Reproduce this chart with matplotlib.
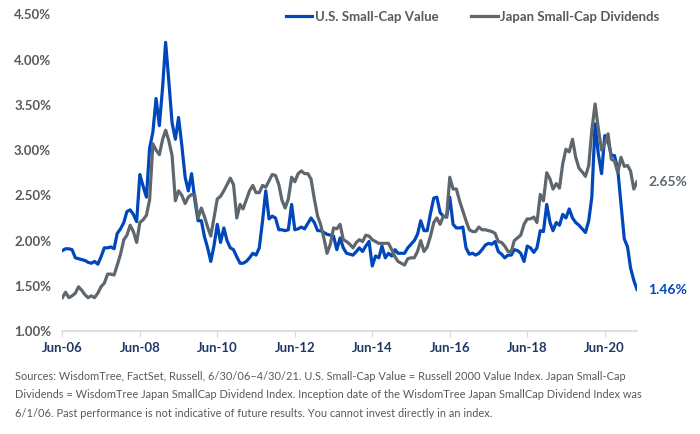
import numpy as np
import pandas as pd
import matplotlib
matplotlib.use("Agg")
import matplotlib.pyplot as plt
import matplotlib.ticker as mticker
import matplotlib.dates as mdates

# monthly dividend yields (%), 6/30/06 - 4/30/21
us_small_cap_value = [
    1.89, 1.91, 1.91, 1.90, 1.81, 1.80, 1.79, 1.78, 1.76, 1.75, 1.77, 1.74,
    1.82, 1.92, 1.92, 1.93, 1.91, 2.08, 2.13, 2.20, 2.32, 2.34, 2.29, 2.21,
    2.73, 2.60, 2.48, 3.02, 3.20, 3.57, 3.27, 3.70, 4.19, 3.75, 3.30, 3.12,
    3.36, 3.05, 2.70, 2.55, 2.74, 2.45, 2.22, 2.22, 2.05, 1.92, 1.77, 1.95,
    2.18, 1.98, 2.14, 2.00, 1.92, 1.90, 1.82, 1.75, 1.75, 1.77, 1.81, 1.86,
    1.84, 1.92, 2.22, 2.55, 2.24, 2.27, 2.25, 2.12, 2.12, 2.11, 2.12, 2.40,
    2.12, 2.13, 2.15, 2.13, 2.19, 2.25, 2.20, 2.11, 2.11, 2.09, 2.07, 2.06,
    2.05, 1.90, 2.03, 1.92, 1.86, 1.85, 1.84, 1.88, 1.92, 1.88, 1.94, 1.99,
    1.72, 1.83, 1.81, 1.94, 1.81, 1.86, 1.83, 1.90, 1.86, 1.86, 1.86, 1.92,
    1.96, 2.00, 2.07, 2.22, 2.11, 2.11, 2.30, 2.47, 2.48, 2.31, 2.27, 2.26,
    2.48, 2.18, 2.14, 2.14, 2.15, 1.92, 1.85, 1.86, 1.84, 1.86, 1.90, 1.95,
    1.97, 1.96, 1.99, 1.88, 1.85, 1.81, 1.84, 1.84, 1.90, 1.89, 1.86, 1.77,
    1.94, 1.92, 1.87, 1.92, 2.11, 2.10, 2.40, 2.20, 2.11, 2.20, 2.17, 2.29,
    2.25, 2.35, 2.25, 2.20, 2.17, 2.13, 2.09, 2.22, 2.48, 3.29, 2.96, 2.74,
    3.16, 3.10, 2.94, 2.94, 2.78, 2.40, 2.02, 1.93, 1.70, 1.56, 1.46,
]

japan_small_cap_div = [
    1.37, 1.43, 1.37, 1.39, 1.42, 1.49, 1.45, 1.40, 1.37, 1.39, 1.37, 1.42,
    1.49, 1.53, 1.63, 1.63, 1.62, 1.73, 1.85, 2.01, 2.06, 2.17, 2.10, 1.98,
    2.20, 2.23, 2.28, 2.45, 3.07, 3.00, 2.95, 3.12, 3.22, 3.10, 2.94, 2.44,
    2.55, 2.50, 2.41, 2.48, 2.51, 2.50, 2.25, 2.36, 2.27, 2.15, 2.05, 2.26,
    2.46, 2.49, 2.55, 2.62, 2.69, 2.62, 2.25, 2.40, 2.35, 2.45, 2.55, 2.61,
    2.53, 2.53, 2.61, 2.59, 2.66, 2.73, 2.72, 2.62, 2.45, 2.36, 2.46, 2.70,
    2.65, 2.74, 2.77, 2.74, 2.74, 2.68, 2.46, 2.27, 2.18, 2.03, 1.86, 1.96,
    2.14, 2.13, 2.18, 2.01, 1.99, 1.96, 1.92, 1.98, 2.01, 1.99, 2.06, 2.05,
    2.01, 1.99, 1.97, 1.97, 1.97, 1.97, 1.90, 1.82, 1.77, 1.75, 1.73, 1.80,
    1.81, 1.81, 1.88, 2.00, 1.88, 1.93, 2.05, 2.20, 2.25, 2.18, 2.27, 2.26,
    2.70, 2.57, 2.57, 2.44, 2.33, 2.22, 2.12, 2.10, 2.10, 2.15, 2.12, 2.12,
    2.11, 2.10, 2.08, 1.99, 1.98, 1.94, 1.88, 1.88, 2.00, 2.03, 2.06, 2.18,
    2.24, 2.24, 2.26, 2.20, 2.51, 2.44, 2.75, 2.68, 2.57, 2.63, 2.58, 2.85,
    3.01, 2.98, 3.12, 2.92, 2.80, 2.76, 2.71, 2.83, 3.22, 3.51, 3.24, 3.00,
    3.07, 3.18, 2.90, 2.88, 2.75, 2.92, 2.82, 2.83, 2.77, 2.57, 2.65,
]

dates = pd.date_range("2006-06-30", "2021-04-30", freq="ME")
assert len(dates) == len(us_small_cap_value) == len(japan_small_cap_div)

blue = "#0047BB"
grey = "#5E676E"
text_col = "#595959"

plt.rcParams["font.family"] = ["Lato", "DejaVu Sans"]

fig = plt.figure(figsize=(7, 4.34), dpi=100)
ax = fig.add_axes([0.089, 0.237, 0.821, 0.730])

ax.plot(dates, us_small_cap_value, color=blue, lw=2.3, label="U.S. Small-Cap Value",
        solid_joinstyle="round")
ax.plot(dates, japan_small_cap_div, color=grey, lw=2.3, label="Japan Small-Cap Dividends",
        solid_joinstyle="round")

ax.set_ylim(1.0, 4.5)
ax.set_xlim(dates[0], dates[-1])
ax.yaxis.set_major_locator(mticker.MultipleLocator(0.5))
ax.yaxis.set_major_formatter(mticker.FuncFormatter(lambda v, p: f"{v:.2f}%"))

ticks = [d for d in dates if d.month == 6 and d.year % 2 == 0]
ax.set_xticks(ticks)
ax.xaxis.set_major_formatter(mdates.DateFormatter("%b-%y"))

for s in ["top", "right", "left"]:
    ax.spines[s].set_visible(False)
ax.spines["bottom"].set_color("#d9d9d9")
ax.spines["bottom"].set_linewidth(1.2)
ax.tick_params(axis="y", length=0, pad=8, labelsize=9.5, labelcolor=text_col)
ax.tick_params(axis="x", length=4, color="#d9d9d9", pad=4, labelsize=9.5,
               labelcolor="#1F3864")
for lbl in ax.get_yticklabels() + ax.get_xticklabels():
    lbl.set_fontweight("bold")

# end-of-series labels
ax.annotate(f"{japan_small_cap_div[-1]:.2f}%", xy=(dates[-1], japan_small_cap_div[-1]),
            xytext=(8, 0), textcoords="offset points", va="center", ha="left",
            color=grey, fontsize=10, fontweight="bold", annotation_clip=False)
ax.annotate(f"{us_small_cap_value[-1]:.2f}%", xy=(dates[-1], us_small_cap_value[-1]),
            xytext=(8, 0), textcoords="offset points", va="center", ha="left",
            color=blue, fontsize=10, fontweight="bold", annotation_clip=False)

leg = fig.legend(loc="center", bbox_to_anchor=(0.675, 0.961), ncol=2, frameon=False,
                 handlelength=2.0, handletextpad=0.2, columnspacing=2.5,
                 prop={"size": 9.5, "weight": "bold"})
for t in leg.get_texts():
    t.set_color(text_col)

note = ("Sources: WisdomTree, FactSet, Russell, 6/30/06\u20134/30/21. U.S. Small-Cap Value = Russell 2000 Value Index. Japan Small-Cap\n"
        "Dividends = WisdomTree Japan SmallCap Dividend Index. Inception date of the WisdomTree Japan SmallCap Dividend Index was\n"
        "6/1/06. Past performance is not indicative of future results. You cannot invest directly in an index.")
fig.text(0.021, 0.09, note, ha="left", va="center", fontsize=7.9, color=text_col,
         linespacing=1.85)

fig.savefig("out.png", dpi=100)
